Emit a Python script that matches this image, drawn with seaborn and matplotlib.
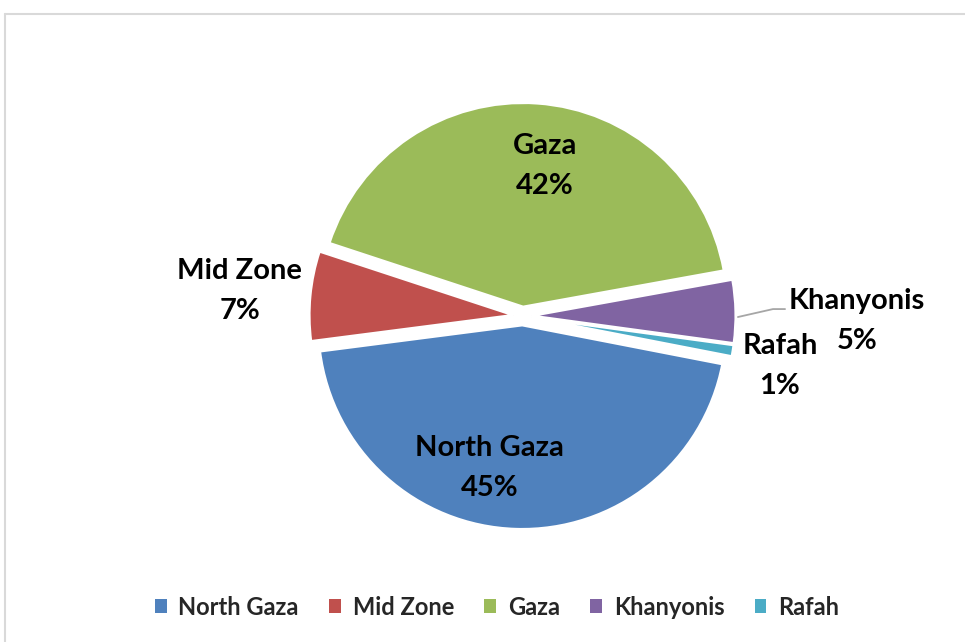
import matplotlib
matplotlib.use("Agg")
import matplotlib.pyplot as plt
import seaborn as sns
from matplotlib.lines import Line2D
from matplotlib.patches import Patch

# ============================================
# DATA
# ============================================

regions = ["North Gaza", "Mid Zone", "Gaza", "Khanyonis", "Rafah"]
shares = [44.9, 7.1, 42.1, 5.0, 0.9]
pct_labels = ["45%", "7%", "42%", "5%", "1%"]
colors = ["#4F81BD", "#C0504D", "#9BBB59", "#8064A2", "#4BACC6"]

# ============================================
# STYLE
# ============================================

sns.set_theme(style="white")
plt.rcParams["font.family"] = ["Lato", "DejaVu Sans"]

fig = plt.figure(figsize=(9.65, 6.42), dpi=100)
ax = fig.add_axes([0, 0, 1, 1])

# ============================================
# PIE
# ============================================

ax.pie(
    shares,
    colors=colors,
    startangle=-11,
    counterclock=False,
    explode=[0.045] * len(shares),
    radius=1.0,
    wedgeprops=dict(edgecolor="white", linewidth=1.8),
)

ax.set_xlim(-2.561, 2.169)
ax.set_ylim(-1.598, 1.549)
ax.set_aspect("auto")
ax.axis("off")

# data label positions (x, y in pie units, centre of the two lines)
label_pos = {
    "North Gaza": (-0.16, -0.745),
    "Mid Zone": (-1.385, 0.123),
    "Gaza": (0.11, 0.735),
    "Khanyonis": (1.64, -0.025),
    "Rafah": (1.262, -0.245),
}
half_gap = 0.098

for name, pct in zip(regions, pct_labels):
    x, y = label_pos[name]
    ax.text(x, y + half_gap, name, ha="center", va="center",
            fontsize=21, fontweight="bold", color="black")
    ax.text(x, y - half_gap, pct, ha="center", va="center",
            fontsize=21, fontweight="bold", color="black")

# leader line for Khanyonis
ax.add_line(Line2D([1.056, 1.228, 1.287], [-0.005, 0.034, 0.034],
                   color="#A6A6A6", linewidth=1.3))

# ============================================
# LEGEND
# ============================================

handles = [Patch(facecolor=c, edgecolor="none") for c in colors]
fig.legend(
    handles, regions,
    loc="center", bbox_to_anchor=(0.515, 0.0545),
    ncol=5, frameon=False,
    handlelength=0.5, handleheight=0.5, handletextpad=0.5,
    columnspacing=1.28,
    prop=dict(size=17, weight="bold"),
)

# chart border (top and left edges visible)
fig.add_artist(Line2D([5 / 965, 1], [1 - 14 / 642, 1 - 14 / 642],
                      transform=fig.transFigure, color="#D9D9D9", linewidth=1.5))
fig.add_artist(Line2D([5 / 965, 5 / 965], [0, 1 - 14 / 642],
                      transform=fig.transFigure, color="#D9D9D9", linewidth=1.5))

plt.savefig("out.png", dpi=100)
